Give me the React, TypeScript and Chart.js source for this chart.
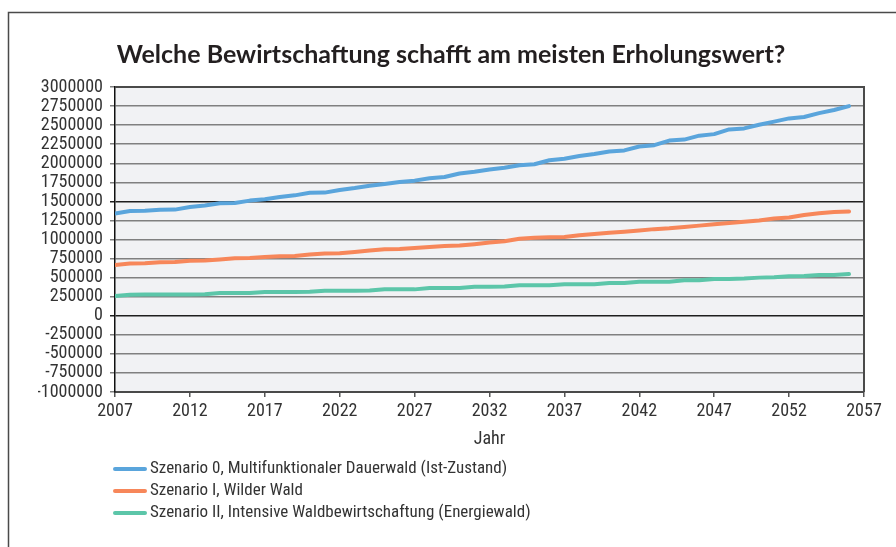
import React, { useEffect, useRef } from "react";
import { Chart, registerables } from "chart.js";

Chart.register(...registerables);

const TITLE = "Welche Bewirtschaftung schafft am meisten Erholungswert?";
const X_TITLE = "Jahr";

const years = [
  2007, 2008, 2009, 2010, 2011, 2012, 2013, 2014, 2015, 2016,
  2017, 2018, 2019, 2020, 2021, 2022, 2023, 2024, 2025, 2026,
  2027, 2028, 2029, 2030, 2031, 2032, 2033, 2034, 2035, 2036,
  2037, 2038, 2039, 2040, 2041, 2042, 2043, 2044, 2045, 2046,
  2047, 2048, 2049, 2050, 2051, 2052, 2053, 2054, 2055, 2056,
];

const xTickValues = [2007, 2012, 2017, 2022, 2027, 2032, 2037, 2042, 2047, 2052, 2057];

const seriesLabels = [
  "Szenario 0, Multifunktionaler Dauerwald (Ist-Zustand)",
  "Szenario I, Wilder Wald",
  "Szenario II, Intensive Waldbewirtschaftung (Energiewald)",
];

const scenario0 = [
  1340000, 1375000, 1378000, 1390000, 1392000, 1425000, 1445000, 1475000, 1478000, 1510000,
  1528000, 1557000, 1579000, 1612000, 1615000, 1649000, 1675000, 1706000, 1728000, 1754000,
  1772000, 1802000, 1819000, 1866000, 1888000, 1918000, 1940000, 1974000, 1987000, 2039000,
  2058000, 2095000, 2121000, 2155000, 2168000, 2220000, 2237000, 2297000, 2310000, 2362000,
  2382000, 2444000, 2457000, 2505000, 2546000, 2588000, 2606000, 2657000, 2699000, 2750000,
];

const scenario1 = [
  665000, 686000, 688000, 703000, 705000, 720000, 724000, 737000, 754000, 758000,
  769000, 780000, 785000, 802000, 816000, 820000, 837000, 855000, 872000, 877000,
  888000, 903000, 916000, 920000, 938000, 960000, 977000, 1010000, 1022000, 1030000,
  1033000, 1055000, 1072000, 1089000, 1102000, 1119000, 1136000, 1148000, 1165000, 1182000,
  1201000, 1216000, 1233000, 1250000, 1275000, 1288000, 1322000, 1343000, 1360000, 1368000,
];

const scenario2 = [
  259000, 276000, 280000, 280000, 280000, 280000, 281000, 298000, 298000, 299000,
  313000, 313000, 313000, 314000, 329000, 329000, 329000, 330000, 346000, 346000,
  346000, 364000, 364000, 364000, 381000, 381000, 384000, 399000, 399000, 401000,
  414000, 414000, 414000, 430000, 430000, 447000, 447000, 447000, 465000, 465000,
  481000, 481000, 487000, 500000, 504000, 517000, 521000, 534000, 534000, 547000,
];

const seriesColors = ["#5aa5dc", "#f7875a", "#5cc6a9"];

const NARROW = "'Liberation Sans Narrow', 'Roboto Condensed', 'Arial Narrow', Roboto, sans-serif";
const TEXT_COLOR = "#333333";

const framePlugin = {
  id: "frameAndLegend",
  beforeDraw(chart: any) {
    const { ctx, chartArea: a } = chart;
    ctx.save();
    ctx.fillStyle = "#ffffff";
    ctx.fillRect(0, 0, chart.width, chart.height);
    ctx.fillStyle = "#f1f2f4";
    ctx.fillRect(a.left, a.top, a.right - a.left, a.bottom - a.top);
    ctx.strokeStyle = "#4a4a4a";
    ctx.lineWidth = 1.5;
    ctx.beginPath();
    ctx.moveTo(8.5, chart.height);
    ctx.lineTo(8.5, 12.5);
    ctx.lineTo(chart.width, 12.5);
    ctx.stroke();
    ctx.restore();
  },
  afterDraw(chart: any) {
    const { ctx, chartArea: a } = chart;
    ctx.save();
    ctx.strokeStyle = "#4a4a4a";
    ctx.lineWidth = 2;
    ctx.beginPath();
    ctx.moveTo(a.left, a.top);
    ctx.lineTo(a.right, a.top);
    ctx.lineTo(a.right, a.bottom);
    ctx.stroke();
    chart.data.datasets.forEach((ds: any, i: number) => {
      const y = a.bottom + 77 + i * 22;
      ctx.strokeStyle = ds.borderColor;
      ctx.lineWidth = 4;
      ctx.lineCap = "round";
      ctx.beginPath();
      ctx.moveTo(a.left, y);
      ctx.lineTo(a.left + 30, y);
      ctx.stroke();
      ctx.fillStyle = TEXT_COLOR;
      ctx.font = `17px ${NARROW}`;
      ctx.textBaseline = "middle";
      ctx.textAlign = "left";
      ctx.fillText(ds.label, a.left + 35, y);
    });
    ctx.restore();
  },
};

export default function App() {
  const ref = useRef<HTMLCanvasElement | null>(null);

  useEffect(() => {
    if (!ref.current) return;
    const series = [scenario0, scenario1, scenario2];
    const chart = new Chart(ref.current, {
      type: "line",
      data: {
        datasets: series.map((vals, i) => ({
          label: seriesLabels[i],
          data: years.map((yr, j) => ({ x: yr, y: vals[j] })),
          borderColor: seriesColors[i],
          backgroundColor: seriesColors[i],
          borderWidth: 4,
          pointRadius: 0,
          tension: 0,
          borderCapStyle: "round",
          borderJoinStyle: "round",
          fill: false,
        })),
      },
      options: {
        animation: false,
        responsive: false,
        devicePixelRatio: 1,
        layout: { padding: { left: 38, right: 32, top: 0, bottom: 0 } },
        plugins: {
          legend: { display: false },
          tooltip: { enabled: false },
          title: {
            display: true,
            text: TITLE,
            color: "#231f20",
            font: { family: "Lato, 'Open Sans', sans-serif", size: 25, weight: "bold" },
            padding: { top: 40, bottom: 17 },
          },
        },
        scales: {
          x: {
            type: "linear",
            min: 2007,
            max: 2057,
            afterBuildTicks: (scale: any) => {
              scale.ticks = xTickValues.map((v) => ({ value: v }));
            },
            afterFit: (scale: any) => {
              scale.height = 155;
            },
            ticks: {
              autoSkip: false,
              maxRotation: 0,
              color: TEXT_COLOR,
              font: { family: NARROW, size: 18 },
              padding: 4,
              callback: (v: any) => String(v),
            },
            grid: {
              drawOnChartArea: false,
              drawTicks: true,
              tickLength: 5,
              color: "#555555",
              lineWidth: 1.5,
            },
            border: { display: true, color: "#4a4a4a", width: 2 },
            title: {
              display: true,
              text: X_TITLE,
              color: TEXT_COLOR,
              font: { family: NARROW, size: 18 },
              padding: { top: 0, bottom: 97 },
            },
          },
          y: {
            type: "linear",
            min: -1000000,
            max: 3000000,
            afterFit: (scale: any) => {
              scale.width = 77;
            },
            ticks: {
              stepSize: 250000,
              autoSkip: false,
              color: TEXT_COLOR,
              font: { family: NARROW, size: 18 },
              padding: 7,
              callback: (v: any) => String(v),
            },
            grid: {
              drawTicks: true,
              tickLength: 5,
              lineWidth: 1.5,
              color: (c: any) =>
                c.tick && (c.tick.value === 0 || c.tick.value === 1500000) ? "#1e1e1e" : "#808080",
            },
            border: { display: true, color: "#111111", width: 1.5 },
          },
        },
      },
      plugins: [framePlugin],
    });
    return () => chart.destroy();
  }, []);

  return (
    <div style={{ position: "fixed", left: 0, top: 0, width: 896, height: 547 }}>
      <canvas ref={ref} width={896} height={547} style={{ display: "block" }} />
    </div>
  );
}
